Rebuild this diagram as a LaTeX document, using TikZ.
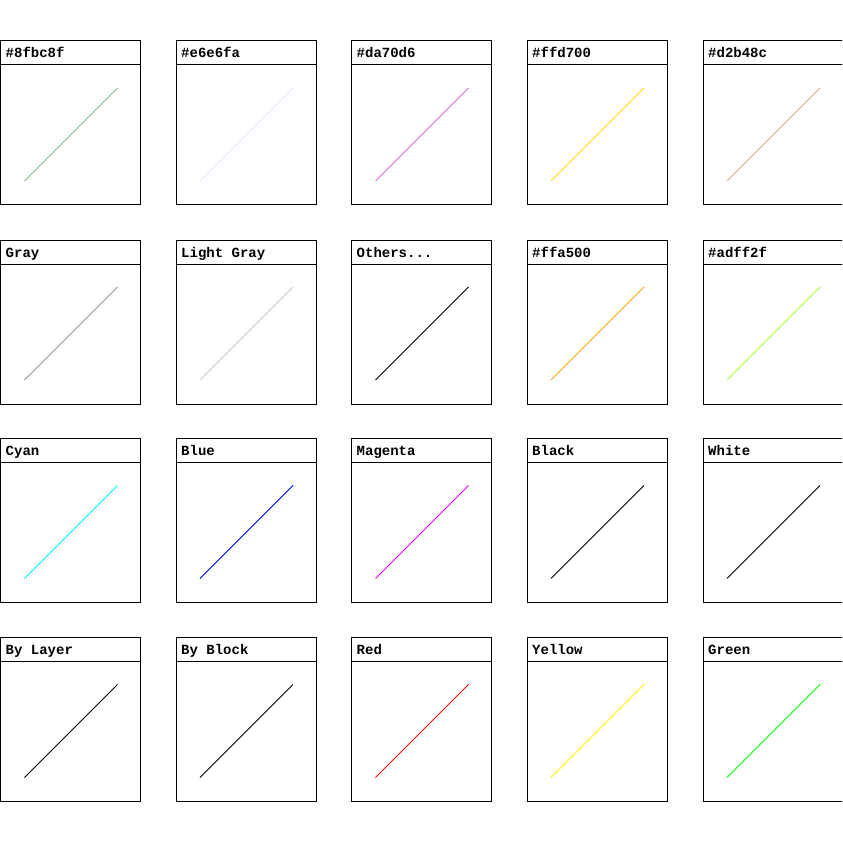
\documentclass[tikz,border=0pt]{standalone}
\usepackage{fontspec}
\usetikzlibrary{calc}
\newfontfamily\monof{Liberation Mono}
\definecolor{cA}{HTML}{8FBC8F}
\definecolor{cB}{HTML}{E6E6FA}
\definecolor{cC}{HTML}{DA70D6}
\definecolor{cD}{HTML}{FFD700}
\definecolor{cE}{HTML}{D2B48C}
\definecolor{cGray}{HTML}{999999}
\definecolor{cLGray}{HTML}{C8C8C8}
\definecolor{cOrange}{HTML}{FFA500}
\definecolor{cGY}{HTML}{ADFF2F}
\definecolor{cCyan}{HTML}{00FFFF}
\definecolor{cBlue}{HTML}{0000FF}
\definecolor{cMag}{HTML}{FF00FF}
\definecolor{cRed}{HTML}{FF0000}
\definecolor{cYel}{HTML}{FFFF00}
\definecolor{cGreen}{HTML}{00FF00}
\newcommand\cellpic[5]{%
  % #1 name, #2 x, #3 y, #4 label, #5 colour
  \node[headbox, anchor=north west] (#1h) at (#2,#3) {};
  \node[labtext, anchor=base west] (#1t) at ($(#1h.north west)+(5,17)$) {#4};
  \node[bodybox, anchor=north west] (#1b) at (#1h.south west) {};
  \coordinate (#1p) at ($(#1h.north west)+(24,140)$);
  \coordinate (#1q) at ($(#1h.north west)+(117,47)$);
  \draw[diag, draw=#5] (#1p) -- (#1q);
}
\begin{document}
\begin{tikzpicture}[x=1pt,y=-1pt]
\tikzset{
  headbox/.style={draw=black, line width=1pt, minimum width=140pt, minimum height=24pt, inner sep=0pt, outer sep=0pt},
  bodybox/.style={draw=black, line width=1pt, minimum width=140pt, minimum height=140pt, inner sep=0pt, outer sep=0pt},
  labtext/.style={inner sep=0pt, font=\monof\bfseries\fontsize{14}{14}\selectfont},
  diag/.style={line width=0.8pt},
}
\useasboundingbox (0,0) rectangle (842,842);
\fill[white] (0,0) rectangle (842,842);
\begin{scope}
\clip (0,0) rectangle (842,842);
\cellpic{a1}{0.5}{41}{\#8fbc8f}{cA}
\cellpic{a2}{176}{41}{\#e6e6fa}{cB}
\cellpic{a3}{351.5}{41}{\#da70d6}{cC}
\cellpic{a4}{527}{41}{\#ffd700}{cD}
\cellpic{a5}{703}{41}{\#d2b48c}{cE}
\cellpic{b1}{0.5}{240}{Gray}{cGray}
\cellpic{b2}{176}{240}{Light Gray}{cLGray}
\cellpic{b3}{351.5}{240}{Others...}{black}
\cellpic{b4}{527}{240}{\#ffa500}{cOrange}
\cellpic{b5}{703}{240}{\#adff2f}{cGY}
\cellpic{c1}{0.5}{438.5}{Cyan}{cCyan}
\cellpic{c2}{176}{438.5}{Blue}{cBlue}
\cellpic{c3}{351.5}{438.5}{Magenta}{cMag}
\cellpic{c4}{527}{438.5}{Black}{black}
\cellpic{c5}{703}{438.5}{White}{black}
\cellpic{d1}{0.5}{637.5}{By Layer}{black}
\cellpic{d2}{176}{637.5}{By Block}{black}
\cellpic{d3}{351.5}{637.5}{Red}{cRed}
\cellpic{d4}{527}{637.5}{Yellow}{cYel}
\cellpic{d5}{703}{637.5}{Green}{cGreen}
\end{scope}
\end{tikzpicture}
\end{document}
